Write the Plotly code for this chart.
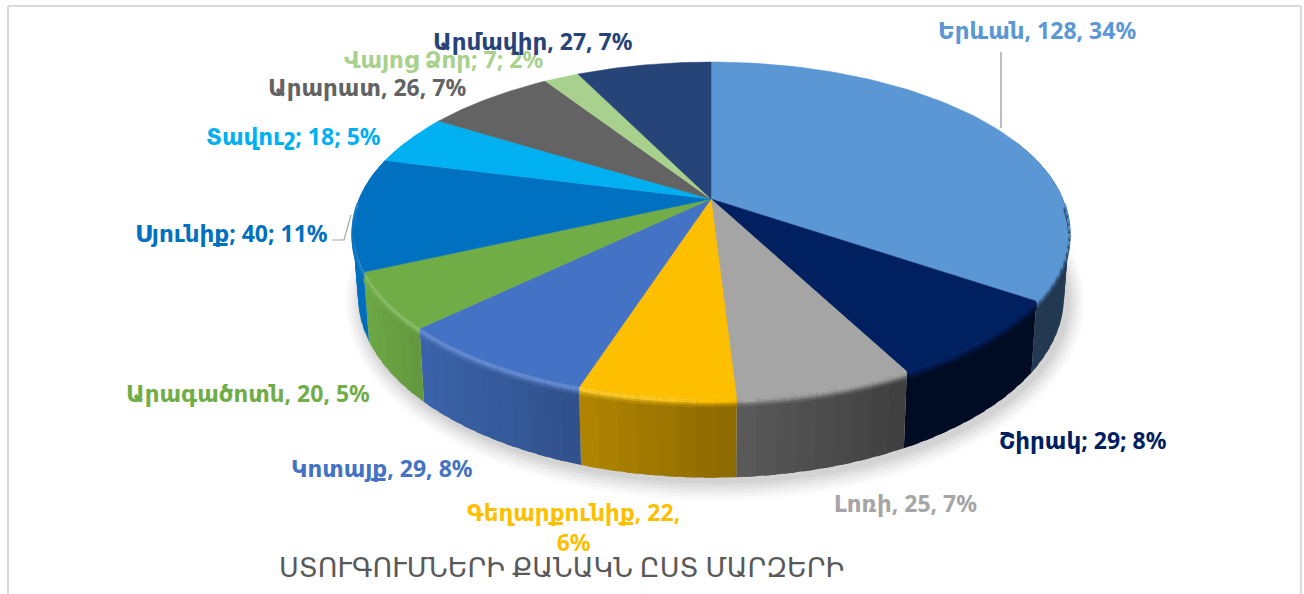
import numpy as np
import plotly.graph_objects as go

# ---- data ----
names = ["Երևան", "Շիրակ", "Լոռի", "Գեղարքունիք", "Կոտայք", "Արագածոտն",
         "Սյունիք", "Տավուշ", "Արարատ", "Վայոց Ձոր", "Արմավիր"]
values = [128, 29, 25, 22, 29, 20, 40, 18, 26, 7, 27]
percents = [34, 8, 7, 6, 8, 5, 11, 5, 7, 2, 7]
separators = [", ", "; ", ", ", ", ", ", ", ", ", "; ", "; ", ", ", "; ", ", "]
colors = ["#5B97D5", "#002060", "#A5A5A5", "#FDBF00", "#4472C4", "#70AD47",
          "#0070C0", "#00B0F0", "#636363", "#A9D18E", "#264478"]
title = "ՍՏՈՒԳՈՒՄՆԵՐԻ ՔԱՆԱԿՆ ԸՍՏ ՄԱՐԶԵՐԻ"

# ---- perspective projection of the pie disc ----
CX, CY = 711, 199
A, B, C = 352.0, 162.6, 0.187
DEPTH = 64.0
FONT = "Noto Sans, DejaVu Sans, sans-serif"
STEP = np.radians(2.5)


def top(theta):
    u, v = np.sin(theta), np.cos(theta)
    d = 1 + C * v
    return CX + A * u / d, CY - B * v / d


def bottom(theta):
    u, v = np.sin(theta), np.cos(theta)
    d = 1 + C * v
    return CX + 0.985 * A * u / d, CY - B * v / d + DEPTH / d


def rgb(h):
    return np.array([int(h[i:i + 2], 16) for i in (1, 3, 5)], float)


def css(c):
    c = np.clip(c, 0, 255).round().astype(int)
    return f"rgb({c[0]},{c[1]},{c[2]})"


def side_factor(x):
    return np.interp(x, [350, 420, 580, 735, 905, 1072], [1.0, .87, .70, .55, .38, .38])


fig = go.Figure()


def poly(xs, ys, fill):
    fig.add_trace(go.Scatter(x=xs, y=ys, mode="lines", fill="toself", fillcolor=fill,
                             line=dict(width=0), hoverinfo="skip", showlegend=False))


# soft shadow below the pie
whole = np.linspace(0, 2 * np.pi, 240)
bx, by = bottom(whole)
for grow, alpha in [(17, .018), (14, .022), (11, .026), (8, .03), (5, .035), (2, .04)]:
    k = 1 + grow / 361
    poly(CX + 4 + (bx - CX) * k, by + 4 + (by - by.mean()) * (k - 1) * 2, f"rgba(0,0,0,{alpha})")

# slice boundaries from the values
total = sum(values)
edges = np.concatenate([[0], np.cumsum(values)]) / total * 2 * np.pi

# extruded side, stepped for a horizontal shading gradient (steps overlap to hide seams)
for i, col in enumerate(colors):
    n = max(2, int((edges[i + 1] - edges[i]) / STEP))
    ts = np.linspace(edges[i], edges[i + 1], n + 1)
    h = ts[1] - ts[0]
    for a, b in zip(ts[:-1], ts[1:]):
        if np.cos((a + b) / 2) > 0.35:
            continue
        e = b + h * 0.6 if b < edges[i + 1] - 1e-9 else b
        x0, y0 = top(a); x1, y1 = top(e)
        x2, y2 = bottom(e); x3, y3 = bottom(a)
        c = css(rgb(col) * side_factor((top(a)[0] + top(b)[0]) / 2))
        poly([x0, x1, x2, x3, x0], [y0, y1, y2, y3, y0], c)

# top faces
for i, col in enumerate(colors):
    ts = np.linspace(edges[i], edges[i + 1], 80)
    x, y = top(ts)
    fig.add_trace(go.Scatter(x=np.r_[CX, x, CX], y=np.r_[CY, y, CY], mode="lines", fill="toself",
                             fillcolor=col, line=dict(width=0.5, color=col),
                             hoverinfo="skip", showlegend=False))

# bevel along the rim: light on the left, dark on the right, fading into the side colour
for i, col in enumerate(colors):
    n = max(2, int((edges[i + 1] - edges[i]) / STEP))
    ts = np.linspace(edges[i], edges[i + 1], n + 1)
    for a, b in zip(ts[:-1], ts[1:]):
        mid = (a + b) / 2
        if np.cos(mid) > -0.02:
            continue
        x, y = top(np.array([a, b]))
        base = rgb(col)
        sidec = base * side_factor(x.mean())
        t = float(np.interp(x.mean(), [350, 620, 760, 1072], [1, 1, 0, 0]))
        rim = base + (np.array([255, 255, 255]) - base) * 0.16 * t
        if x.mean() >= 700:
            rim = base
        for off, blend in [(1.0, 0.0), (3.0, 0.0 if t > 0 else 0.15), (5.0, 0.45), (7.0, 0.8)]:
            c = rim + (sidec - rim) * blend
            fig.add_trace(go.Scatter(x=x, y=y + off, mode="lines", line=dict(width=2.3, color=css(c)),
                                     hoverinfo="skip", showlegend=False))

# ---- labels ----
label_pos = [(1037, 30), (1083, 440), (905, 503), (573, 527), (382, 468), (248, 393),
             (231, 233), (293, 136), (367, 87), (443, 59), (533, 41)]
annotations = []
for i, (px, py) in enumerate(label_pos):
    sep = separators[i]
    if names[i] == "Գեղարքունիք":
        txt = f"{names[i]}{sep}{values[i]}{sep.strip()}<br>{percents[i]}%"
    else:
        txt = f"{names[i]}{sep}{values[i]}{sep}{percents[i]}%"
    annotations.append(dict(x=px, y=py, xref="x", yref="y", text=txt, showarrow=False,
                            xanchor="center", yanchor="middle", align="center",
                            font=dict(family=FONT, size=23, color=colors[i], weight="bold")))
annotations.append(dict(x=561, y=566, xref="x", yref="y", text=title, showarrow=False,
                        xanchor="center", yanchor="middle",
                        font=dict(family=FONT, size=27, color="#595959")))

gray = "#D9D9D9"
leader = "#A6A6A6"
shapes = [
    dict(type="line", x0=8, x1=8, y0=6, y1=594, line=dict(color=gray, width=2)),
    dict(type="line", x0=8, x1=1301, y0=6, y1=6, line=dict(color=gray, width=2)),
    dict(type="line", x0=1301, x1=1301, y0=6, y1=594, line=dict(color=gray, width=2)),
    dict(type="line", x0=1001, x1=1001, y0=52, y1=128, line=dict(color=leader, width=1.5)),
    dict(type="path", path="M332,240 L344,240 L351,215", line=dict(color=leader, width=1.2)),
]

fig.update_layout(
    width=1304, height=594, margin=dict(l=0, r=0, t=0, b=0),
    paper_bgcolor="white", plot_bgcolor="white", showlegend=False,
    xaxis=dict(range=[0, 1304], visible=False, fixedrange=True),
    yaxis=dict(range=[594, 0], visible=False, fixedrange=True),
    annotations=annotations, shapes=shapes,
)
fig.write_html("out.html", post_script="document.body.style.margin='0';document.body.style.overflow='hidden';",
               config={"displayModeBar": False})
